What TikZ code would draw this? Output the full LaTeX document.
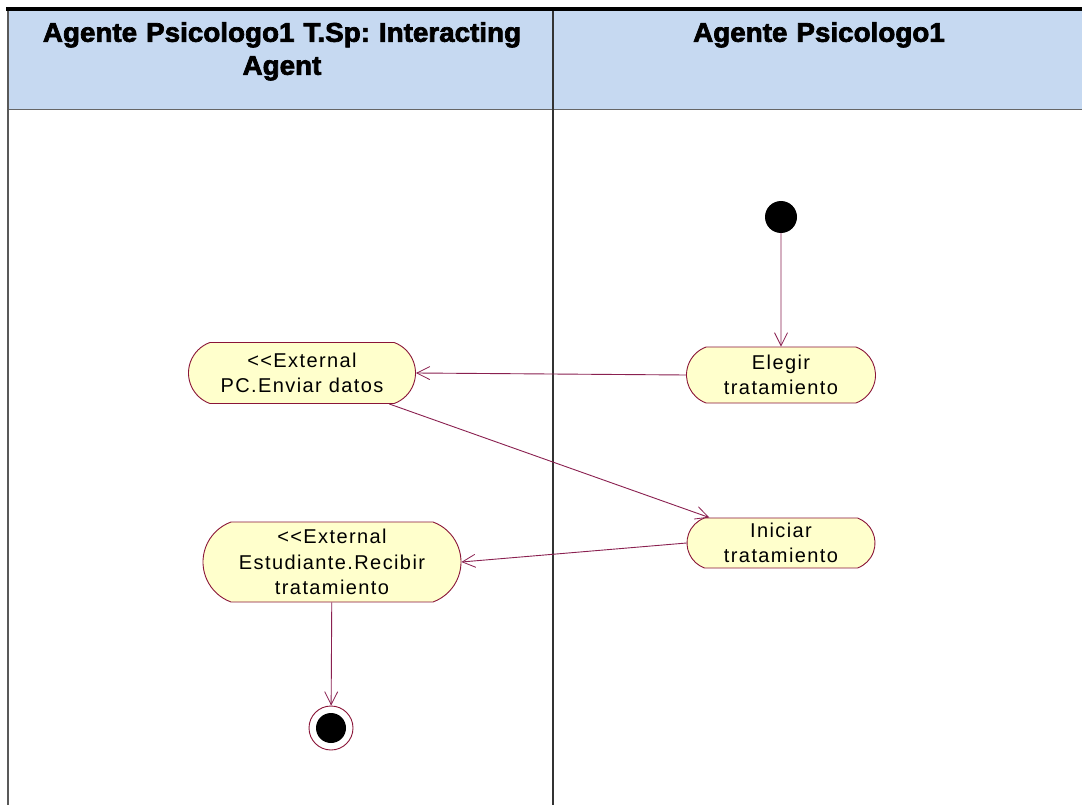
\documentclass[tikz,border=0pt]{standalone}
\usepackage{fontspec}
\setmainfont{Liberation Sans}
\newfontfamily\headfont[FakeBold=2.6,FakeStretch=1.03]{Liberation Sans Bold}
\newfontfamily\actfont[LetterSpace=7]{Liberation Sans}
\usetikzlibrary{shapes.misc,arrows.meta}
\definecolor{headblue}{HTML}{C6D9F1}
\definecolor{actfill}{HTML}{FFFFCC}
\definecolor{maroon}{HTML}{8A1538}
\definecolor{flow}{HTML}{8A2050}
\tikzset{
  action/.style={rounded rectangle, rounded rectangle arc length=140, draw=maroon, line width=0.9pt,
    fill=actfill, align=center, font=\actfont\fontsize{20}{25.5}\selectfont, inner sep=2pt},
  flowline/.style={draw=flow, line width=0.9pt, -{Straight Barb[length=13pt,width=13pt,line width=0.8pt]}},
  lanehead/.style={font=\headfont\fontsize{27}{33}\selectfont\frenchspacing, align=center,
    text width=530pt, inner sep=0pt, anchor=north}
}
\begin{document}
\begin{tikzpicture}[x=1pt,y=-1pt]
  \useasboundingbox (0,0) rectangle (1082,805);
  \fill[white] (0,0) rectangle (1082,805);
  % swimlane header band
  \fill[headblue] (8,11) rectangle (1082,110);
  \draw[line width=3.5pt] (6,9) -- (1082,9);
  \draw[gray!80!black, line width=1pt] (8,110) -- (1082,110);
  \draw[gray!70!black, line width=2pt] (8,11) -- (8,805);
  \draw[black!80, line width=1.3pt] (553,11) -- (553,805);
  \node[lanehead] (laneA) at (282,22) {Agente Psicologo1 T.Sp: Interacting\\Agent};
  \node[lanehead] (laneB) at (819,22) {Agente Psicologo1};

  % activity nodes
  \fill[black] (781,217) circle (16);
  \node[circle, minimum size=32pt, inner sep=0pt] (start) at (781,217) {};
  \node[action, minimum width=193pt, minimum height=56pt] (elegir) at (781,375) {Elegir\\tratamiento};
  \node[action, minimum width=231pt, minimum height=61pt] (enviar) at (302,373) {{<}{<}External\\PC.Enviar datos};
  \node[action, minimum width=192pt, minimum height=50pt] (iniciar) at (781,543) {Iniciar\\tratamiento};
  \node[action, minimum width=262pt, minimum height=80pt] (recibir) at (332,562) {{<}{<}External\\Estudiante.Recibir\\tratamiento};
  \node[circle, draw=maroon, line width=0.9pt, fill=white, minimum size=44pt, inner sep=0pt] (final) at (331,728) {};
  \fill[black] (final.center) circle (15);

  % control flows
  \draw[flowline] (start) -- (elegir);
  \draw[flowline] (elegir.west) -- (enviar.east);
  \draw[flowline] (enviar) -- (iniciar);
  \draw[flowline] (iniciar.west) -- (recibir.east);
  \draw[flowline] (recibir) -- (final);
\end{tikzpicture}
\end{document}
